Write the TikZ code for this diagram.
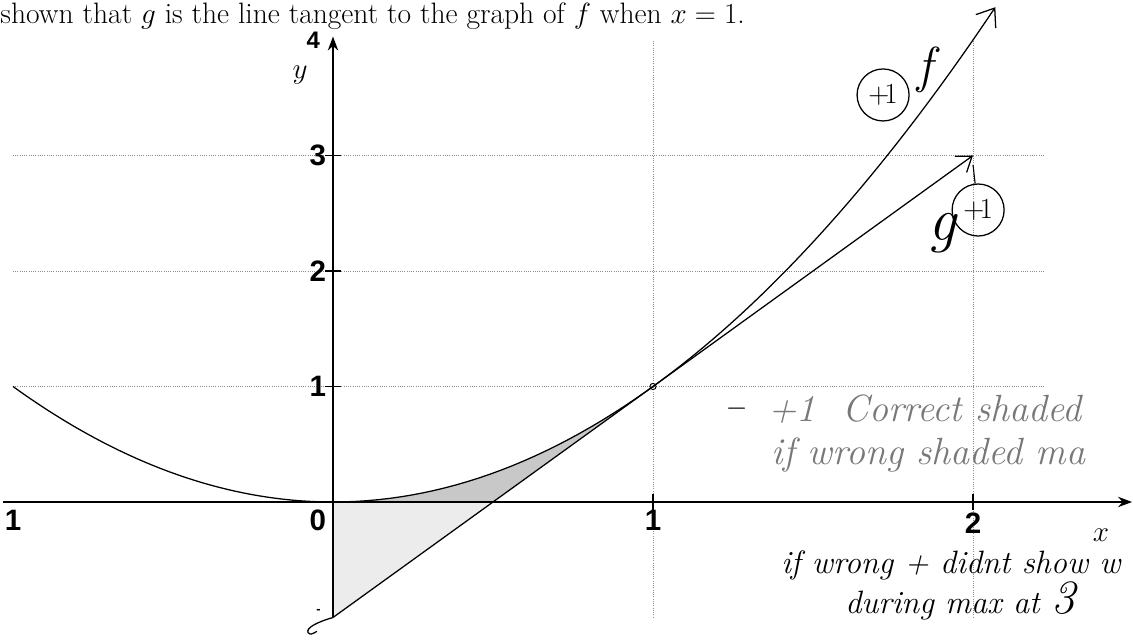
\documentclass[tikz,border=0pt]{standalone}
\usepackage{fontspec}
\usepackage{amsmath}
\newfontfamily\ticksf{Liberation Sans}
\usetikzlibrary{arrows.meta,calc,positioning}
\definecolor{pencil}{RGB}{120,120,120}
\definecolor{shadeA}{RGB}{200,200,200}
\definecolor{shadeB}{RGB}{236,236,236}

\begin{document}
\begin{tikzpicture}[x=8cm, y=2.8875cm,
    grid/.style={black!45, densely dotted, line width=0.6pt},
    axis/.style={line width=1.1pt, -{Stealth[length=3.5mm,width=2.6mm]}},
    curve/.style={line width=0.9pt},
    ticklab/.style={font=\ticksf\bfseries\fontsize{21}{21}\selectfont, inner sep=1pt},
    hand/.style={font=\itshape\fontsize{23}{25}\selectfont, inner sep=0pt},
    faint/.style={hand, font=\itshape\fontsize{27}{28}\selectfont, text=pencil},
    score/.style={draw, circle, line width=0.9pt, minimum size=1.3cm, inner sep=0pt,
      font=\fontsize{22}{22}\selectfont}]
  \useasboundingbox (-1.0406,-1.2035) rectangle (2.5,4.3463);
  % sentence of the question, top left
  \node[anchor=west, inner sep=0pt, font=\fontsize{21}{24}\selectfont] (stem) at (-1.04,4.21)
    {shown that $g$ is the line tangent to the graph of $f$ when $x = 1$.};
  % dotted grid
  \foreach \gy in {1,2,3}
    \draw[grid] (-1,\gy) -- (2.22,\gy);
  \foreach \gx in {1,2}
    \draw[grid] (\gx,-1) -- (\gx,4);
  % shaded region between f and g on [0,1]
  \fill[shadeB] plot[domain=0:1, samples=40] (\x,{\x*\x}) -- (0,-1) -- cycle;
  \fill[shadeA] plot[domain=0:1, samples=40] (\x,{\x*\x}) -- (0.5,0) -- cycle;
  % axes
  \coordinate (xl) at (-1.03,0);
  \coordinate (xr) at (2.497,0);
  \coordinate (yb) at (0,-1);
  \coordinate (yt) at (0,4.03);
  \draw[axis] (xl) -- (xr);
  \draw[axis] (yb) -- (yt);
  \foreach \gy in {1,2,3}
    \draw[line width=0.8pt] (-0.025,\gy) -- (0.025,\gy);
  \foreach \gx in {1,2}
    \draw[line width=0.8pt] (\gx,-0.07) -- (\gx,0.07);
  % tick labels
  \node[ticklab] (lx-1) at (-1,-0.16) {1};
  \node[ticklab] (lx0) at (-0.047,-0.16) {0};
  \node[ticklab] (lx1) at (1,-0.16) {1};
  \node[ticklab] (lx2) at (2,-0.18) {2};
  \node[ticklab] (ly1) at (-0.047,1) {1};
  \node[ticklab] (ly2) at (-0.047,2) {2};
  \node[ticklab] (ly3) at (-0.047,3) {3};
  \node[ticklab, font=\ticksf\bfseries\fontsize{17}{17}\selectfont] (ly4) at (-0.062,4.0) {4};
  \node[ticklab, font=\ticksf\bfseries\fontsize{9}{9}\selectfont] (ly-1) at (-0.045,-0.95) {-};
  \node[font=\fontsize{21}{21}\selectfont] (ylab) at (-0.103,3.70) {$y$};
  \node[font=\fontsize{21}{21}\selectfont, inner sep=1pt] (xlab) at (2.4,-0.29) {$x$};
  % printed part of f, then the drawn part with its arrow
  \draw[curve] plot[domain=-1:0, samples=40] (\x,{\x*\x});
  \draw[curve, -{Straight Barb[length=4mm,width=6mm]}]
    plot[domain=0:2.07, samples=60] (\x,{\x*\x});
  % tangent line g
  \coordinate (g0) at (0,-1);
  \coordinate (g1) at (2,3);
  \draw[curve, -{Straight Barb[length=3.5mm,width=5mm]}] (g0) -- (g1);
  \draw[curve] (g0) .. controls (-0.05,-1.04) and (-0.085,-1.09) .. (-0.078,-1.13)
    .. controls (-0.07,-1.15) .. (-0.05,-1.12);
  \draw[line width=0.7pt] (1,1) circle (2.2pt);
  % marks written on the page
  \node[score] (fplus) at (1.719,3.524) {$+\!1$};
  \node[hand, font=\itshape\fontsize{36}{36}\selectfont] (fname) at (1.85,3.74) {f};
  \node[score] (gplus) at (2.016,2.528) {$+\!1$};
  \node[hand, font=\itshape\fontsize{44}{44}\selectfont] (gname) at (1.905,2.33) {g};
  \coordinate (gtip) at (2.0,2.92);
  \draw[line width=0.8pt] (gplus) -- (gtip);
  \node[hand, anchor=east] (dash) at (1.285,0.77) {\textbf{--}};
  \node[faint, anchor=west] (shaded1) at (1.36,0.80) {+1\ \ Correct shaded};
  \node[faint, anchor=west] (shaded2) at (1.37,0.41) {if wrong shaded ma};
  \node[hand, anchor=west] (work1) at (1.40,-0.55) {if wrong + didnt show w};
  \node[hand, anchor=west] (work2) at (1.60,-0.86) {during max at \fontsize{34}{34}\selectfont 3};
\end{tikzpicture}
\end{document}
